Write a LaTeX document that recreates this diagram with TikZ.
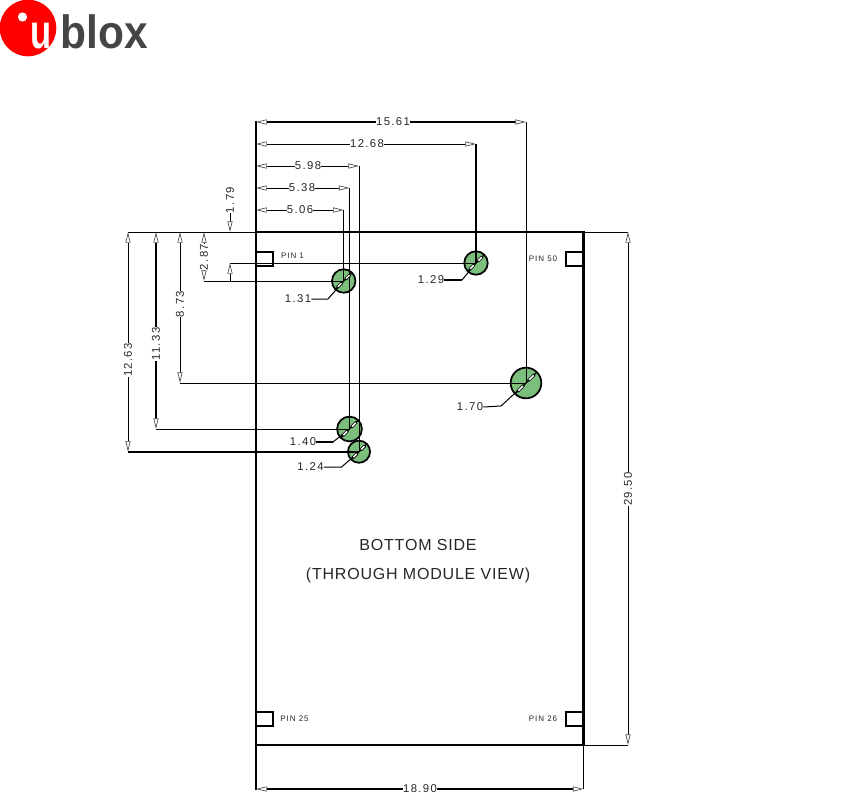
\documentclass[tikz,border=0pt]{standalone}
\usepackage{fontspec}
\usetikzlibrary{arrows.meta,calc}
\setmainfont{Liberation Sans}
\newfontfamily\dimfont[LetterSpace=12]{Liberation Sans}
\newfontfamily\titlefont[LetterSpace=5]{Liberation Sans}
\newfontfamily\logofont{Liberation Sans Bold}
\definecolor{holegreen}{HTML}{7CBF7C}
\definecolor{ubred}{HTML}{FF0000}
\definecolor{ubgrey}{HTML}{454545}
\tikzset{
  px/.style={x=0.75pt,y=-0.75pt},
  thinln/.style={line width=0.75pt,black},
  thickln/.style={line width=1.6pt,black},
  dtip/.style={-{Triangle[fill=white,length=8pt,width=3.8pt,line width=0.5pt,color=black!70]}},
  dimlab/.style={inner sep=0pt,font=\dimfont\fontsize{8.5pt}{8.5pt}\selectfont,text=black!85},
  pinlab/.style={inner sep=0pt,font=\dimfont\fontsize{6pt}{6pt}\selectfont,text=black!85},
  titlelab/.style={inner sep=0pt,font=\titlefont\fontsize{12pt}{12pt}\selectfont,text=black!85},
  hole/.style={circle,draw=black,line width=1.3pt,fill=holegreen,inner sep=0pt,outer sep=0pt},
  pinbox/.style={draw=black,line width=1.3pt,fill=white,inner sep=0pt,outer sep=0pt,minimum width=13pt,minimum height=10.5pt},
}
% diameter mark: black line with two small white slits
\newcommand{\diam}[2]{%
  \draw[line width=1pt] ($(#1)+(-#2*0.707,#2*0.707)$) -- ($(#1)+(#2*0.707,-#2*0.707)$);
  \draw[line width=2.2pt] ($(#1)+(-#2*0.55,#2*0.55)$) -- ($(#1)+(-#2*0.15,#2*0.15)$);
  \draw[line width=2.2pt] ($(#1)+(#2*0.15,-#2*0.15)$) -- ($(#1)+(#2*0.55,-#2*0.55)$);
  \draw[white,line width=1.1pt] ($(#1)+(-#2*0.5,#2*0.5)$) -- ($(#1)+(-#2*0.2,#2*0.2)$);
  \draw[white,line width=1.1pt] ($(#1)+(#2*0.2,-#2*0.2)$) -- ($(#1)+(#2*0.5,-#2*0.5)$);
}
\begin{document}
\begin{tikzpicture}[px]
\useasboundingbox (0,0) rectangle (842,803);
% logo
\fill[ubred] (28,28) circle[radius=28.3];
\fill[white] (22.5,17) circle[radius=4.6];
\node[inner sep=0pt,anchor=base,text=white,font=\logofont\fontsize{36pt}{36pt}\selectfont,xscale=0.72] (logou) at (41,48) {u};
\node[inner sep=0pt,anchor=base west,text=ubgrey,font=\logofont\fontsize{35pt}{35pt}\selectfont,xscale=0.91] (logob) at (60.5,48) {blox};
% key points
\coordinate (TL) at (256,232);
\coordinate (TR) at (583.5,232);
\coordinate (BL) at (256,745);
\coordinate (BR) at (583.5,745);
% extension lines
\draw[thinln] (128,232) -- (TL);
\draw[thinln] (TR) -- (628,232);
\draw[thinln] (BR) -- (628,745);
\draw[thinln] (BR) -- (583.5,789);
\draw[thickln] (256,121) -- (256,790);
% labels
\node[dimlab] (d1561) at (393,122) {15.61};
\node[dimlab] (d1268) at (367,144) {12.68};
\node[dimlab] (d598) at (308,166) {5.98};
\node[dimlab] (d538) at (302,188) {5.38};
\node[dimlab] (d506) at (300,210) {5.06};
\node[dimlab,rotate=90] (d179) at (230,200) {1.79};
\node[dimlab,rotate=90] (d287) at (204,257) {2.87};
\node[dimlab,rotate=90] (d873) at (180,304) {8.73};
\node[dimlab,rotate=90] (d1133) at (156,344) {11.33};
\node[dimlab,rotate=90] (d1263) at (128,360) {12.63};
\node[dimlab,rotate=90] (d2950) at (628,489) {29.50};
\node[dimlab] (d1890) at (420,789) {18.90};
\node[dimlab] (l131) at (298,299) {1.31};
\node[dimlab] (l129) at (431,280) {1.29};
\node[dimlab] (l170) at (470,407) {1.70};
\node[dimlab] (l140) at (303,442) {1.40};
\node[dimlab] (l124) at (310.5,467) {1.24};
% holes centres
\coordinate (h131) at (343.7,281);
\coordinate (h129) at (476,263);
\coordinate (h170) at (526,383);
\coordinate (h140) at (349.5,429);
\coordinate (h124) at (359,451.7);
% tip coordinates
\coordinate (t1561r) at (526,122);
\coordinate (t1268r) at (476,144);
\coordinate (t598r) at (359,166);
\coordinate (t538r) at (349.5,188);
\coordinate (t506r) at (343.7,210);
% horizontal dimensions
\draw[thickln,dtip] (d1561.west) -- (256,122);
\draw[thickln,dtip] (d1561.east) -- (t1561r);
\draw[thinln,dtip] (d1268.west) -- (256,144);
\draw[thinln,dtip] (d1268.east) -- (t1268r);
\draw[thinln,dtip] (d598.west) -- (256,166);
\draw[thinln,dtip] (d598.east) -- (t598r);
\draw[thinln,dtip] (d538.west) -- (256,188);
\draw[thinln,dtip] (d538.east) -- (t538r);
\draw[thinln,dtip] (d506.west) -- (256,210);
\draw[thinln,dtip] (d506.east) -- (t506r);
\draw[thickln,dtip] (d1890.west) -- (256,789);
\draw[thickln,dtip] (d1890.east) -- (583.5,789);
% vertical dimensions
\draw[thinln,dtip] (d179.west) -- (230,232);
\draw[thinln,dtip] (d287.east) -- (204,232);
\draw[thinln,dtip] (d287.west) -- (204,281);
\draw[thinln,dtip] (d873.east) -- (180,232);
\draw[thinln,dtip] (d873.west) -- (180,383);
\draw[thickln,dtip] (d1133.east) -- (156,232);
\draw[thickln,dtip] (d1133.west) -- (156,429);
\draw[thinln,dtip] (d1263.east) -- (128,232);
\draw[thinln,dtip] (d1263.west) -- (128,451.7);
\draw[thinln,dtip] (d2950.east) -- (628,232);
\draw[thinln,dtip] (d2950.west) -- (628,745);
% board outline
\draw[thickln] (TL) -- (TR) -- (BR) -- (BL);
% pins
\node[pinbox,anchor=north west] (p1) at (256,252) {};
\node[pinbox,anchor=north east] (p50) at (583.5,252) {};
\node[pinbox,anchor=north west] (p25) at (256,712) {};
\node[pinbox,anchor=north east] (p26) at (583.5,712) {};
\draw[thickln] (TL) -- (BL);
\draw[thickln] (TR) -- (BR);
\node[pinlab] (pl1) at (292.5,256) {PIN 1};
\node[pinlab] (pl50) at (543,259) {PIN 50};
\node[pinlab] (pl25) at (294.5,718.5) {PIN 25};
\node[pinlab] (pl26) at (543,718.5) {PIN 26};
\node[titlelab] (tt1) at (418,545) {BOTTOM SIDE};
\node[titlelab] (tt2) at (418,575) {(THROUGH MODULE VIEW)};
% hole circles
\node[hole,minimum size=17.6pt] (c131) at (h131) {};
\node[hole,minimum size=17.6pt] (c129) at (h129) {};
\node[hole,minimum size=23pt] (c170) at (h170) {};
\node[hole,minimum size=18.6pt] (c140) at (h140) {};
\node[hole,minimum size=16.6pt] (c124) at (h124) {};
% lines to holes
\draw[thickln] (t1268r) -- (h129);
\draw[thinln] (t1561r) -- (h170);
\draw[thinln] (t598r) -- (h124);
\draw[thinln] (t538r) -- (h140);
\draw[thinln] (t506r) -- (h131);
\draw[thinln] (204,281) -- (h131);
\draw[thinln,dtip] (230,281) -- (230,263);
\draw[thinln] (230,263) -- (h129);
\draw[thinln] (180,383) -- (h170);
\draw[thinln] (156,429) -- (h140);
\draw[thickln] (128,451.7) -- (h124);
% leaders
\draw[thinln] (l131.east) -- (328,299) -- (c131.center);
\draw[thickln] (l129.east) -- (462,280);
\draw[thinln] (462,280) -- (c129.center);
\draw[thinln] (l170.east) -- (501,406) -- (c170.center);
\draw[thickln] (l140.east) -- (333,442);
\draw[thinln] (333,442) -- (c140.center);
\draw[thinln] (l124.east) -- (341.6,467) -- (c124.center);
% diameter marks
\diam{c131}{11.7}
\diam{c129}{11.7}
\diam{c170}{15.3}
\diam{c140}{12.4}
\diam{c124}{11}
\end{tikzpicture}
\end{document}
